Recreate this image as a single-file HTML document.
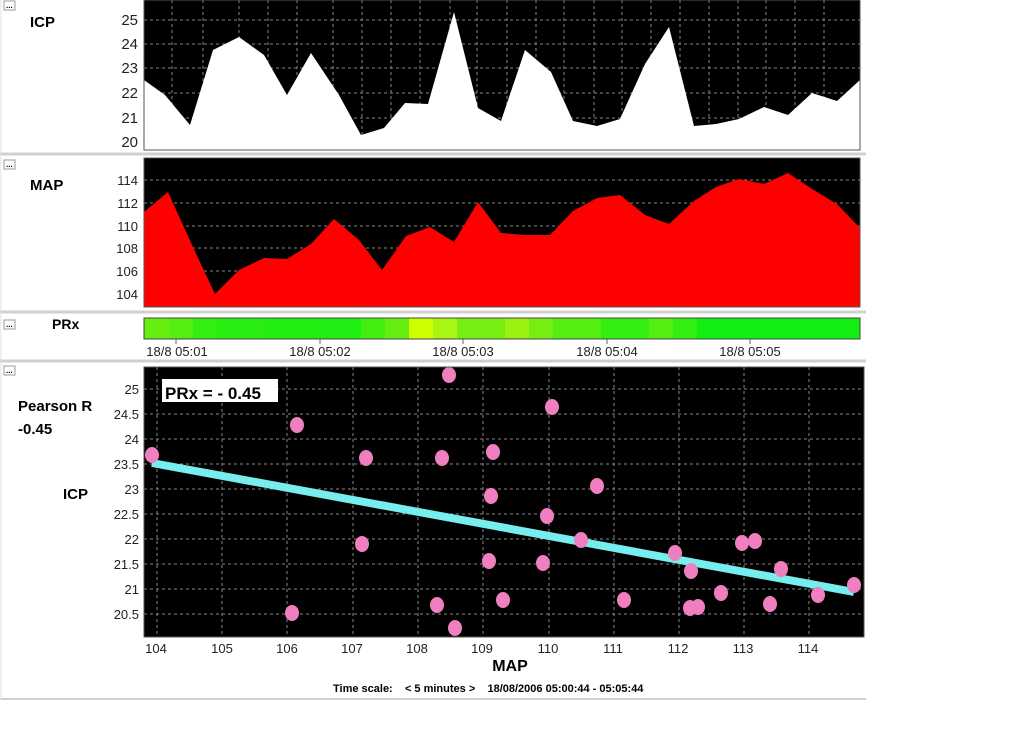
<!DOCTYPE html>
<html><head><meta charset="utf-8"><style>
body{margin:0;background:#fff;width:1024px;height:742px;overflow:hidden;font-family:"Liberation Sans",sans-serif}
svg{display:block}
</style></head><body>
<svg width="1024" height="742" xmlns="http://www.w3.org/2000/svg" font-family="Liberation Sans, sans-serif">
<rect width="1024" height="742" fill="#fff"/>
<g stroke="#d0d0d0" stroke-width="3">
<line x1="0" y1="154" x2="866" y2="154"/>
<line x1="0" y1="312" x2="866" y2="312"/>
<line x1="0" y1="361" x2="866" y2="361"/>
<line x1="0" y1="699" x2="866" y2="699" stroke-width="2"/>
</g>
<line x1="1" y1="0" x2="1" y2="700" stroke="#e0e0e0"/>
<g fill="#fff" stroke="#999" stroke-width="1">
<rect x="4" y="1" width="11" height="9"/><rect x="4" y="160" width="11" height="9"/><rect x="4" y="320" width="11" height="9"/><rect x="4" y="366" width="11" height="9"/>
</g>
<g font-size="8" font-weight="bold" fill="#000"><text x="6" y="8">...</text><text x="6" y="167">...</text><text x="6" y="327">...</text><text x="6" y="373">...</text></g>

<rect x="144" y="0" width="716" height="150" fill="#000"/>
<g stroke="#888" stroke-dasharray="3,3" stroke-width="1">
<line x1="144" y1="20" x2="860" y2="20"/><line x1="144" y1="44" x2="860" y2="44"/><line x1="144" y1="68" x2="860" y2="68"/><line x1="144" y1="93" x2="860" y2="93"/><line x1="144" y1="118" x2="860" y2="118"/><line x1="144" y1="142" x2="860" y2="142"/>
<line x1="172" y1="0" x2="172" y2="150"/><line x1="203" y1="0" x2="203" y2="150"/><line x1="239" y1="0" x2="239" y2="150"/><line x1="268" y1="0" x2="268" y2="150"/><line x1="297" y1="0" x2="297" y2="150"/><line x1="333" y1="0" x2="333" y2="150"/><line x1="362" y1="0" x2="362" y2="150"/><line x1="391" y1="0" x2="391" y2="150"/><line x1="420" y1="0" x2="420" y2="150"/><line x1="450" y1="0" x2="450" y2="150"/><line x1="477" y1="0" x2="477" y2="150"/><line x1="507" y1="0" x2="507" y2="150"/><line x1="536" y1="0" x2="536" y2="150"/><line x1="564" y1="0" x2="564" y2="150"/><line x1="594" y1="0" x2="594" y2="150"/><line x1="622" y1="0" x2="622" y2="150"/><line x1="651" y1="0" x2="651" y2="150"/><line x1="680" y1="0" x2="680" y2="150"/><line x1="709" y1="0" x2="709" y2="150"/><line x1="738" y1="0" x2="738" y2="150"/><line x1="766" y1="0" x2="766" y2="150"/><line x1="795" y1="0" x2="795" y2="150"/><line x1="824" y1="0" x2="824" y2="150"/>
</g>
<polygon fill="#fff" points="144,150 144,80 165,95 190,125 213,50 239,37 264,55 287,95 311,53 339,95 361,135 384,128 405,103 428,104 454,12 478,108 501,121 525,50 551,72 573,121 597,126 620,119 645,64 669,27 694,126 716,124 739,119 764,107 788,115 812,93 837,101 860,80 860,150"/>
<rect x="144" y="0" width="716" height="150" fill="none" stroke="#555"/>
<g font-size="15" fill="#222" text-anchor="end"><text x="138" y="25">25</text><text x="138" y="49">24</text><text x="138" y="73">23</text><text x="138" y="98">22</text><text x="138" y="123">21</text><text x="138" y="147">20</text></g>
<text x="30" y="27" font-size="15" font-weight="bold">ICP</text>

<rect x="144" y="158" width="716" height="149" fill="#000"/>
<g stroke="#888" stroke-dasharray="3,3">
<line x1="144" y1="180" x2="860" y2="180"/><line x1="144" y1="203" x2="860" y2="203"/><line x1="144" y1="226" x2="860" y2="226"/><line x1="144" y1="248" x2="860" y2="248"/><line x1="144" y1="271" x2="860" y2="271"/><line x1="144" y1="294" x2="860" y2="294"/>
</g>
<polygon fill="#f00" points="144,307 144,212 168,192 192,245 215,294 239,270 264,258 287,259 311,244 334,219 359,240 382,270 406,236 430,227 454,242 478,202 501,233 525,235 550,235 573,211 597,198 620,195 645,215 669,224 694,201 716,187 739,179 764,184 788,173 812,189 837,204 860,228 860,307"/>
<rect x="144" y="158" width="716" height="149" fill="none" stroke="#555"/>
<g font-size="13" fill="#222" text-anchor="end"><text x="138" y="185">114</text><text x="138" y="208">112</text><text x="138" y="231">110</text><text x="138" y="253">108</text><text x="138" y="276">106</text><text x="138" y="299">104</text></g>
<text x="30" y="190" font-size="15" font-weight="bold">MAP</text>

<g>
<rect x="144" y="318" width="25" height="21" fill="#66ee11"/>
<rect x="169" y="318" width="24" height="21" fill="#55ee11"/>
<rect x="193" y="318" width="24" height="21" fill="#33ee11"/>
<rect x="217" y="318" width="48" height="21" fill="#2aee11"/>
<rect x="265" y="318" width="48" height="21" fill="#22ee11"/>
<rect x="313" y="318" width="48" height="21" fill="#1eee11"/>
<rect x="361" y="318" width="24" height="21" fill="#44ee11"/>
<rect x="385" y="318" width="24" height="21" fill="#66ee11"/>
<rect x="409" y="318" width="24" height="21" fill="#ccff00"/>
<rect x="433" y="318" width="24" height="21" fill="#aaf511"/>
<rect x="457" y="318" width="48" height="21" fill="#77ee11"/>
<rect x="505" y="318" width="24" height="21" fill="#99f011"/>
<rect x="529" y="318" width="24" height="21" fill="#77ee11"/>
<rect x="553" y="318" width="48" height="21" fill="#55ee11"/>
<rect x="601" y="318" width="48" height="21" fill="#33ee11"/>
<rect x="649" y="318" width="24" height="21" fill="#55ee11"/>
<rect x="673" y="318" width="24" height="21" fill="#33ee11"/>
<rect x="697" y="318" width="163" height="21" fill="#11ee11"/>
</g>
<rect x="144" y="318" width="716" height="21" fill="none" stroke="#444"/>
<text x="52" y="329" font-size="14" font-weight="bold">PRx</text>
<g stroke="#666"><line x1="176" y1="339" x2="176" y2="344"/><line x1="320" y1="339" x2="320" y2="344"/><line x1="463" y1="339" x2="463" y2="344"/><line x1="607" y1="339" x2="607" y2="344"/><line x1="750" y1="339" x2="750" y2="344"/></g>
<g font-size="13" fill="#222" text-anchor="middle"><text x="177" y="356">18/8 05:01</text><text x="320" y="356">18/8 05:02</text><text x="463" y="356">18/8 05:03</text><text x="607" y="356">18/8 05:04</text><text x="750" y="356">18/8 05:05</text></g>

<rect x="144" y="367" width="720" height="270" fill="#000"/>
<g stroke="#888" stroke-dasharray="3,3">
<line x1="144" y1="389" x2="864" y2="389"/><line x1="144" y1="414" x2="864" y2="414"/><line x1="144" y1="439" x2="864" y2="439"/><line x1="144" y1="464" x2="864" y2="464"/><line x1="144" y1="489" x2="864" y2="489"/><line x1="144" y1="514" x2="864" y2="514"/><line x1="144" y1="539" x2="864" y2="539"/><line x1="144" y1="564" x2="864" y2="564"/><line x1="144" y1="589" x2="864" y2="589"/><line x1="144" y1="614" x2="864" y2="614"/>
<line x1="157" y1="367" x2="157" y2="637"/><line x1="222" y1="367" x2="222" y2="637"/><line x1="287" y1="367" x2="287" y2="637"/><line x1="353" y1="367" x2="353" y2="637"/><line x1="418" y1="367" x2="418" y2="637"/><line x1="483" y1="367" x2="483" y2="637"/><line x1="549" y1="367" x2="549" y2="637"/><line x1="614" y1="367" x2="614" y2="637"/><line x1="679" y1="367" x2="679" y2="637"/><line x1="744" y1="367" x2="744" y2="637"/><line x1="809" y1="367" x2="809" y2="637"/>
</g>
<line x1="152" y1="463" x2="854" y2="592" stroke="#77eeee" stroke-width="8"/>
<g fill="#f07fc0">
<ellipse cx="152" cy="455" rx="7" ry="8"/><ellipse cx="297" cy="425" rx="7" ry="8"/><ellipse cx="292" cy="613" rx="7" ry="8"/><ellipse cx="366" cy="458" rx="7" ry="8"/><ellipse cx="362" cy="544" rx="7" ry="8"/><ellipse cx="442" cy="458" rx="7" ry="8"/><ellipse cx="437" cy="605" rx="7" ry="8"/><ellipse cx="449" cy="375" rx="7" ry="8"/><ellipse cx="455" cy="628" rx="7" ry="8"/><ellipse cx="493" cy="452" rx="7" ry="8"/><ellipse cx="491" cy="496" rx="7" ry="8"/><ellipse cx="489" cy="561" rx="7" ry="8"/><ellipse cx="503" cy="600" rx="7" ry="8"/><ellipse cx="552" cy="407" rx="7" ry="8"/><ellipse cx="547" cy="516" rx="7" ry="8"/><ellipse cx="543" cy="563" rx="7" ry="8"/><ellipse cx="581" cy="540" rx="7" ry="8"/><ellipse cx="597" cy="486" rx="7" ry="8"/><ellipse cx="624" cy="600" rx="7" ry="8"/><ellipse cx="675" cy="553" rx="7" ry="8"/><ellipse cx="691" cy="571" rx="7" ry="8"/><ellipse cx="690" cy="608" rx="7" ry="8"/><ellipse cx="698" cy="607" rx="7" ry="8"/><ellipse cx="721" cy="593" rx="7" ry="8"/><ellipse cx="742" cy="543" rx="7" ry="8"/><ellipse cx="755" cy="541" rx="7" ry="8"/><ellipse cx="781" cy="569" rx="7" ry="8"/><ellipse cx="770" cy="604" rx="7" ry="8"/><ellipse cx="818" cy="595" rx="7" ry="8"/><ellipse cx="854" cy="585" rx="7" ry="8"/>
</g>
<rect x="144" y="367" width="720" height="270" fill="none" stroke="#555"/>
<rect x="162" y="379" width="116" height="23" fill="#fff"/>
<text x="165" y="399" font-size="17" font-weight="bold">PRx = - 0.45</text>
<g font-size="13" fill="#222" text-anchor="end"><text x="139" y="394">25</text><text x="139" y="419">24.5</text><text x="139" y="444">24</text><text x="139" y="469">23.5</text><text x="139" y="494">23</text><text x="139" y="519">22.5</text><text x="139" y="544">22</text><text x="139" y="569">21.5</text><text x="139" y="594">21</text><text x="139" y="619">20.5</text></g>
<g font-size="13" fill="#222" text-anchor="middle"><text x="156" y="653">104</text><text x="222" y="653">105</text><text x="287" y="653">106</text><text x="352" y="653">107</text><text x="417" y="653">108</text><text x="482" y="653">109</text><text x="548" y="653">110</text><text x="613" y="653">111</text><text x="678" y="653">112</text><text x="743" y="653">113</text><text x="808" y="653">114</text></g>
<text x="510" y="671" font-size="16" font-weight="bold" text-anchor="middle">MAP</text>
<text x="18" y="411" font-size="15" font-weight="bold">Pearson R</text>
<text x="18" y="434" font-size="15" font-weight="bold">-0.45</text>
<text x="63" y="499" font-size="15" font-weight="bold">ICP</text>
<text x="333" y="692" font-size="11" font-weight="bold" xml:space="preserve">Time scale:    &lt; 5 minutes &gt;    18/08/2006 05:00:44 - 05:05:44</text>
</svg>
</body></html>
